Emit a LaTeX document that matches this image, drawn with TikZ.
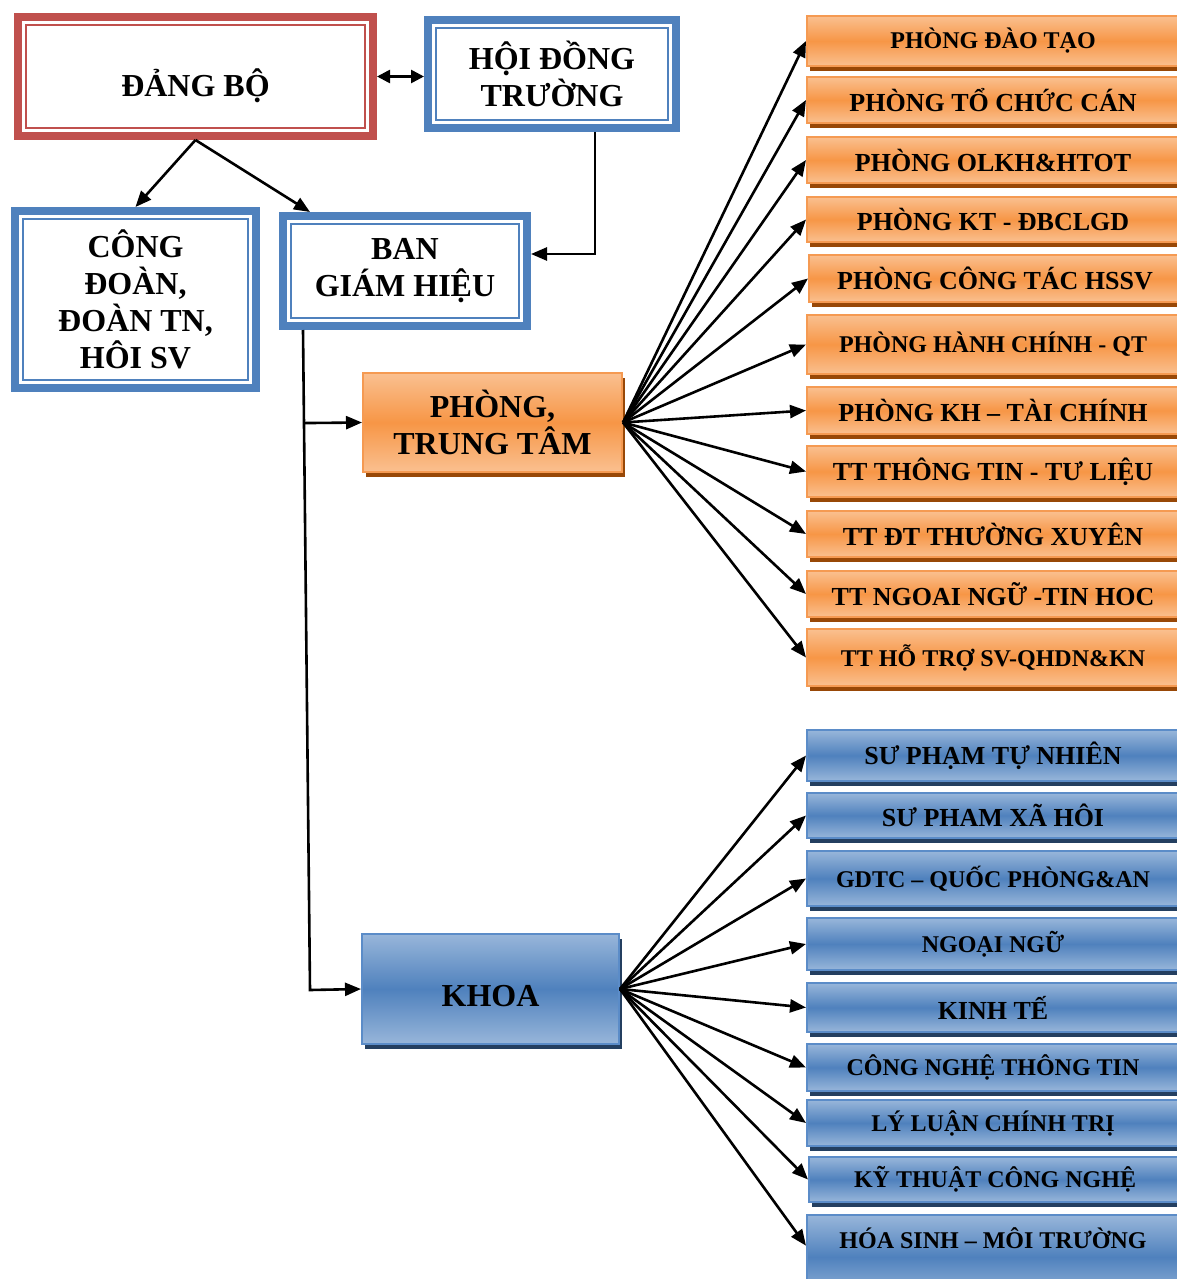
\documentclass[tikz,border=0pt]{standalone}
\usepackage{fontspec}
\setmainfont{Liberation Serif}
\usepackage{tikz}
\usetikzlibrary{positioning, arrows.meta, shadows, calc}

\definecolor{partyred}{HTML}{C0504D}
\definecolor{boardblue}{HTML}{4F81BD}
\definecolor{orangetop}{HTML}{FAC090}
\definecolor{orangemid}{HTML}{F79646}
\definecolor{orangeedge}{HTML}{F59A52}
\definecolor{orangeshade}{HTML}{984807}
\definecolor{bluetop}{HTML}{98B6DA}
\definecolor{bluemid}{HTML}{4F81BD}
\definecolor{blueedge}{HTML}{5B8CC8}
\definecolor{blueshade}{HTML}{243F60}

\newcommand{\headfont}{\fontsize{32}{37}\selectfont\bfseries}
\newcommand{\unitfont}{\fontsize{26}{30}\selectfont\bfseries}
\newcommand{\unitfontsm}{\fontsize{24}{28}\selectfont\bfseries}

\tikzset{
  boardbox/.style={draw, line width=8pt, outer sep=4pt, fill=white, inner sep=0pt, align=center, font=\headfont},
  redboard/.style={boardbox, draw=partyred},
  blueboard/.style={boardbox, draw=boardblue},
  unitbox/.style={line width=2pt, inner sep=0pt, align=center, font=\unitfont},
  orangebox/.style={unitbox, draw=orangeedge, top color=orangetop, bottom color=orangetop, middle color=orangemid,
    general shadow={fill=orangeshade, shadow xshift=3pt, shadow yshift=-5pt}},
  bluebox/.style={unitbox, draw=blueedge, top color=bluetop, bottom color=bluetop, middle color=bluemid,
    general shadow={fill=blueshade, shadow xshift=3pt, shadow yshift=-5pt}},
  link/.style={-{Triangle[length=16pt, width=13pt]}, line width=2.6pt},
}

\begin{document}
\begin{tikzpicture}[x=1pt, y=-1pt]
    \useasboundingbox (0,0) rectangle (1177,1279);
    \clip (0,0) rectangle (1177,1279);

    % Leadership boxes
    \node[redboard, minimum width=355pt, minimum height=119pt, text height=49pt, text depth=8pt] (dang) at (195.5,76.5) {ĐẢNG BỘ};
    \node[blueboard, minimum width=248pt, minimum height=108pt] (hdt) at (552,74) {HỘI ĐỒNG\\TRƯỜNG};
    \node[blueboard, minimum width=241pt, minimum height=177pt] (cd) at (135.5,299.5) {CÔNG\\ĐOÀN,\\ĐOÀN TN,\\HÔI SV};
    \node[blueboard, minimum width=244pt, minimum height=110pt] (bgh) at (405,271) {BAN\\GIÁM HIỆU};

    % Inner thin frames
    \draw[partyred, line width=2pt] ([shift={(12pt,-12pt)}]dang.north west) rectangle ([shift={(-12pt,12pt)}]dang.south east);
    \draw[boardblue, line width=2pt] ([shift={(12pt,-12pt)}]hdt.north west) rectangle ([shift={(-12pt,12pt)}]hdt.south east);
    \draw[boardblue, line width=2pt] ([shift={(12pt,-12pt)}]cd.north west) rectangle ([shift={(-12pt,12pt)}]cd.south east);
    \draw[boardblue, line width=2pt] ([shift={(12pt,-12pt)}]bgh.north west) rectangle ([shift={(-12pt,12pt)}]bgh.south east);

    % Group boxes
    \node[orangebox, minimum width=259pt, minimum height=99pt, font=\headfont] (ph) at (492.5,422.5) {PHÒNG,\\TRUNG TÂM};
    \node[bluebox, minimum width=257pt, minimum height=110pt, font=\headfont, text height=34pt, text depth=0pt] (khoa) at (490.5,989) {KHOA};

    % Offices and centres
    \node[orangebox, minimum width=372pt, minimum height=50pt, font=\unitfontsm] (o1) at (993,41) {PHÒNG ĐÀO TẠO};
    \node[orangebox, minimum width=372pt, minimum height=46pt] (o2) at (993,100) {PHÒNG TỔ CHỨC CÁN};
    \node[orangebox, minimum width=372pt, minimum height=46pt] (o3) at (993,160) {PHÒNG OLKH\&HTOT};
    \node[orangebox, minimum width=372pt, minimum height=45pt] (o4) at (993,219.5) {PHÒNG KT - ĐBCLGD};
    \node[orangebox, minimum width=372pt, minimum height=47pt] (o5) at (995,278.5) {PHÒNG CÔNG TÁC HSSV};
    \node[orangebox, minimum width=372pt, minimum height=59pt, font=\unitfontsm] (o6) at (993,344.5) {PHÒNG HÀNH CHÍNH - QT};
    \node[orangebox, minimum width=372pt, minimum height=47pt] (o7) at (993,410.5) {PHÒNG KH – TÀI CHÍNH};
    \node[orangebox, minimum width=372pt, minimum height=51pt] (o8) at (993,471.5) {TT THÔNG TIN - TƯ LIỆU};
    \node[orangebox, minimum width=372pt, minimum height=46pt] (o9) at (993,534) {TT ĐT THƯỜNG XUYÊN};
    \node[orangebox, minimum width=372pt, minimum height=46pt] (o10) at (993,594) {TT NGOAI NGỮ -TIN HOC};
    \node[orangebox, minimum width=372pt, minimum height=57pt, font=\unitfontsm] (o11) at (993,657.5) {TT HỖ TRỢ SV-QHDN\&KN};

    % Faculties
    \node[bluebox, minimum width=372pt, minimum height=51pt] (k1) at (993,755.5) {SƯ PHẠM TỰ NHIÊN};
    \node[bluebox, minimum width=372pt, minimum height=45pt] (k2) at (993,815.5) {SƯ PHAM XÃ HÔI};
    \node[bluebox, minimum width=372pt, minimum height=55pt, font=\unitfontsm] (k3) at (993,878.5) {GDTC – QUỐC PHÒNG\&AN};
    \node[bluebox, minimum width=372pt, minimum height=52pt, font=\unitfontsm] (k4) at (993,944) {NGOẠI NGỮ};
    \node[bluebox, minimum width=372pt, minimum height=49pt] (k5) at (993,1007.5) {KINH TẾ};
    \node[bluebox, minimum width=372pt, minimum height=47pt, font=\unitfontsm] (k6) at (993,1067.5) {CÔNG NGHỆ THÔNG TIN};
    \node[bluebox, minimum width=372pt, minimum height=46pt, font=\unitfontsm] (k7) at (993,1123) {LÝ LUẬN CHÍNH TRỊ};
    \node[bluebox, minimum width=372pt, minimum height=45pt, font=\unitfontsm] (k8) at (995,1179.5) {KỸ THUẬT CÔNG NGHỆ};
    \node[bluebox, minimum width=372pt, minimum height=84pt, font=\unitfontsm, text height=18pt, text depth=36pt] (k9) at (993,1257) {HÓA SINH – MÔI TRƯỜNG};

    % Top connections
    \draw[{Triangle[length=13pt, width=13pt]}-{Triangle[length=13pt, width=13pt]}, line width=2.6pt] (dang.east) -- (dang.east -| hdt.west);
    \draw[link] (dang.south) -- (cd.north);
    \draw[link] (dang.south) -- ([xshift=31pt]bgh.north west);
    \draw[link] ([xshift=43pt]hdt.south) |- ([yshift=17pt]bgh.east);

    % Trunk from the board of rectors
    \coordinate (trunktop) at ([xshift=24pt]bgh.south west);
    \coordinate (trunkfoot) at (310,990);
    \draw[link] (trunktop) -- (trunkfoot) -- (khoa.west);
    \draw[link] ($(trunktop)!0.141!(trunkfoot)$) -- (ph.west);

    % Fan to offices
    \draw[link] (ph.east) -- (o1.west);
    \draw[link] (ph.east) -- (o2.west);
    \draw[link] (ph.east) -- (o3.west);
    \draw[link] (ph.east) -- (o4.west);
    \draw[link] (ph.east) -- (o5.west);
    \draw[link] (ph.east) -- (o6.west);
    \draw[link] (ph.east) -- (o7.west);
    \draw[link] (ph.east) -- (o8.west);
    \draw[link] (ph.east) -- (o9.west);
    \draw[link] (ph.east) -- (o10.west);
    \draw[link] (ph.east) -- (o11.west);

    % Fan to faculties
    \draw[link] (khoa.east) -- (k1.west);
    \draw[link] (khoa.east) -- (k2.west);
    \draw[link] (khoa.east) -- (k3.west);
    \draw[link] (khoa.east) -- (k4.west);
    \draw[link] (khoa.east) -- (k5.west);
    \draw[link] (khoa.east) -- (k6.west);
    \draw[link] (khoa.east) -- (k7.west);
    \draw[link] (khoa.east) -- (k8.west);
    \draw[link] (khoa.east) -- (k9.mid west);

\end{tikzpicture}
\end{document}
